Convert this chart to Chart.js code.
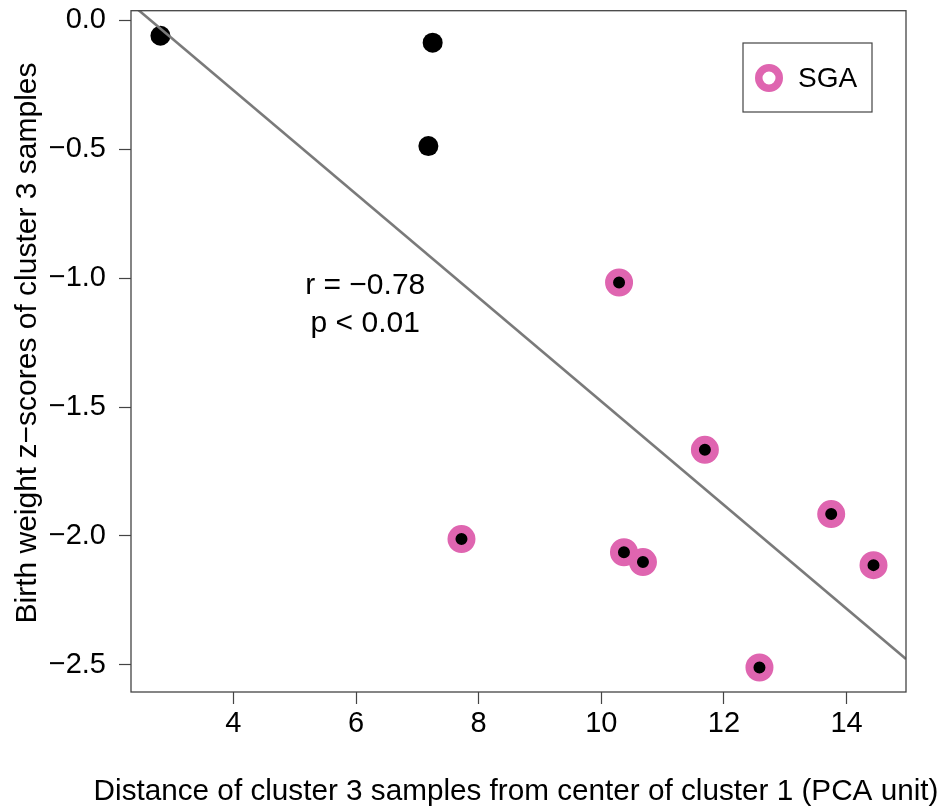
<!DOCTYPE html>
<html>
<head>
<meta charset="utf-8">
<script src="https://cdn.jsdelivr.net/npm/chart.js@4/dist/chart.umd.min.js"></script>
<style>
  body { margin: 0; background: #fff; }
  #wrap { width: 948px; height: 810px; }
</style>
</head>
<body>
<div id="wrap"><canvas id="chart" width="948" height="810"></canvas></div>
<script>
// Non-SGA samples (black dots)
const otherX = [2.81, 7.25, 7.18];
const otherY = [-0.06, -0.087, -0.488];

// SGA samples (pink ring with black centre)
const sgaX = [10.29, 7.72, 10.37, 10.68, 11.69, 13.75, 14.44, 12.58];
const sgaY = [-1.017, -2.012, -2.063, -2.101, -1.666, -1.915, -2.113, -2.51];

// regression line end points
const fitX = [2.33, 14.97];
const fitY = [0.064, -2.477];

const xTicks = [4, 6, 8, 10, 12, 14];
const yTicks = [0, -0.5, -1, -1.5, -2, -2.5];

const xTitle = 'Distance of cluster 3 samples from center of cluster 1 (PCA unit)';
const yTitle = 'Birth weight z\u2212scores of cluster 3 samples';
const statLines = ['r = \u22120.78', 'p < 0.01'];
const legendLabel = 'SGA';

const PINK = '#df65b0';
const FONT = 'Liberation Sans, Arial, Helvetica, sans-serif';
const PLOT_TOP = 10.7;

function toPoints(xs, ys) {
    return xs.map((x, i) => ({ x: x, y: ys[i] }));
}

function fmtMinus(v, digits) {
    const s = Math.abs(v).toFixed(digits);
    return (v < 0 ? '\u2212' : '') + s;
}

// the big markers make chart.js reserve extra room at the top; pull the plot top back up
const fixTop = {
    id: 'fixTop',
    afterLayout(chart) {
        const a = chart.chartArea;
        const y = chart.scales.y;
        a.top = PLOT_TOP;
        a.height = a.bottom - a.top;
        y.top = PLOT_TOP;
        y.height = y.bottom - y.top;
        y.configure();
    }
};

// box around plot, axis titles, stat text and the legend
const extras = {
    id: 'extras',
    afterDraw(chart) {
        const ctx = chart.ctx;
        const a = chart.chartArea;
        const xs = chart.scales.x, ys = chart.scales.y;
        ctx.save();
        ctx.strokeStyle = '#444';
        ctx.lineWidth = 1.3;
        ctx.strokeRect(a.left, a.top, a.right - a.left, a.bottom - a.top);

        ctx.fillStyle = '#000';
        ctx.textAlign = 'center';
        ctx.textBaseline = 'middle';

        // axis titles (drawn here so they are not squeezed to the axis width)
        ctx.font = '29.7px ' + FONT;
        ctx.fillText(xTitle, 516, 792);
        ctx.save();
        ctx.translate(28, 343);
        ctx.rotate(-Math.PI / 2);
        ctx.font = '30px ' + FONT;
        ctx.fillText(yTitle, 0, 0);
        ctx.restore();

        // r / p text
        ctx.font = '30px ' + FONT;
        const tx = xs.getPixelForValue(6.15);
        ctx.fillText(statLines[0], tx, ys.getPixelForValue(-1.03));
        ctx.fillText(statLines[1], tx, ys.getPixelForValue(-1.175));

        // legend
        ctx.strokeStyle = '#444';
        ctx.lineWidth = 1.2;
        ctx.strokeRect(743, 43, 129, 69);
        ctx.beginPath();
        ctx.arc(769, 78, 10.25, 0, Math.PI * 2);
        ctx.strokeStyle = PINK;
        ctx.lineWidth = 7.5;
        ctx.stroke();
        ctx.font = '28px ' + FONT;
        ctx.textAlign = 'left';
        ctx.fillText(legendLabel, 798, 79);
        ctx.restore();
    }
};

const tickFont = { family: FONT, size: 29 };

new Chart(document.getElementById('chart'), {
    type: 'scatter',
    data: {
        datasets: [
            {
                type: 'line',
                data: toPoints(fitX, fitY),
                borderColor: '#7a7a7a',
                borderWidth: 2.6,
                pointRadius: 0,
                fill: false,
                order: 0
            },
            {
                data: toPoints(otherX, otherY),
                backgroundColor: '#000',
                borderWidth: 0,
                pointRadius: 10,
                order: 1
            },
            {
                data: toPoints(sgaX, sgaY),
                backgroundColor: '#000',
                borderColor: PINK,
                borderWidth: 8,
                pointRadius: 10,
                order: 1
            }
        ]
    },
    options: {
        responsive: false,
        animation: false,
        devicePixelRatio: 1,
        layout: { padding: { top: 10, right: 42, left: 0, bottom: 0 } },
        plugins: { legend: { display: false }, tooltip: { enabled: false } },
        scales: {
            x: {
                type: 'linear',
                min: 2.33,
                max: 14.97,
                afterBuildTicks: axis => { axis.ticks = xTicks.map(v => ({ value: v })); },
                afterFit: axis => { axis.height = 118; },
                grid: { drawOnChartArea: false, color: '#444', tickLength: 12, tickWidth: 1.2 },
                border: { display: false },
                ticks: { color: '#000', font: tickFont, padding: 3, maxRotation: 0, callback: v => String(v) },
                title: { display: false }
            },
            y: {
                type: 'linear',
                min: -2.605,
                max: 0.037,
                afterBuildTicks: axis => { axis.ticks = yTicks.map(v => ({ value: v })); },
                afterFit: axis => { axis.width = 131; },
                grid: { drawOnChartArea: false, color: '#444', tickLength: 12, tickWidth: 1.2 },
                border: { display: false },
                ticks: { color: '#000', font: tickFont, padding: 13, callback: v => fmtMinus(v, 1) },
                title: { display: false }
            }
        }
    },
    plugins: [fixTop, extras]
});
</script>
</body>
</html>
